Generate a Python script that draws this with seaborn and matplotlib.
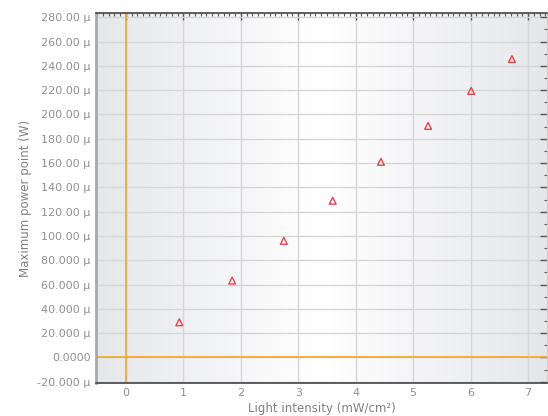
import numpy as np
import pandas as pd
import matplotlib
matplotlib.use("Agg")
import matplotlib.pyplot as plt
from matplotlib.colors import LinearSegmentedColormap
from matplotlib.ticker import MultipleLocator
import seaborn as sns

# data (light intensity in mW/cm², max power point in µW)
light_intensity = [0.93, 1.85, 2.75, 3.60, 4.44, 5.26, 6.01, 6.72]
max_power_uw = [29.0, 63.3, 96.0, 129.0, 161.0, 190.6, 219.4, 245.6]

y_ticks = [-20, 0, 20, 40, 60, 80, 100, 120, 140, 160, 180, 200, 220, 240, 260, 280]
y_tick_labels = ["-20.000 µ", "0.0000", "20.000 µ", "40.000 µ", "60.000 µ", "80.000 µ",
                 "100.00 µ", "120.00 µ", "140.00 µ", "160.00 µ", "180.00 µ", "200.00 µ",
                 "220.00 µ", "240.00 µ", "260.00 µ", "280.00 µ"]
x_ticks = [0, 1, 2, 3, 4, 5, 6, 7]

df = pd.DataFrame({"intensity": light_intensity, "power": max_power_uw})

sns.set_style("white")
plt.rcParams["font.family"] = ["DejaVu Sans"]

fig = plt.figure(figsize=(5.48, 4.16), dpi=100)
ax = fig.add_axes([96 / 548, 33 / 416, 451 / 548, 370 / 416])

# grey-white-grey background gradient
grad = np.concatenate([np.linspace(0, 1, 128), np.linspace(1, 0, 128)])[None, :]
cmap = LinearSegmentedColormap.from_list("bg", ["#e6e7eb", "#ffffff"])
ax.imshow(grad, extent=[0, 1, 0, 1], transform=ax.transAxes, cmap=cmap,
          aspect="auto", zorder=0, interpolation="bicubic")

ax.set_xlim(-0.52, 7.33)
ax.set_ylim(-21, 283.5)

ax.set_xticks(x_ticks)
ax.set_yticks(y_ticks)
ax.set_yticklabels(y_tick_labels)
ax.xaxis.set_minor_locator(MultipleLocator(0.1))
ax.yaxis.set_minor_locator(MultipleLocator(10))

ax.grid(True, which="major", color="#d6d6d6", linewidth=1.0, zorder=1)
ax.set_axisbelow(True)

ax.axvline(0, color="#f5a623", linewidth=1.2, zorder=2)
ax.axhline(0, color="#f5a623", linewidth=1.2, zorder=2)

sns.scatterplot(data=df, x="intensity", y="power", ax=ax, marker="^", s=24,
                facecolor="none", edgecolor="#e8424c", linewidth=1.0, zorder=3)

ax.tick_params(axis="both", which="both", direction="in", top=True, right=True,
               labelsize=8, labelcolor="#909090", color="#555555")
ax.tick_params(which="major", length=5, width=1)
ax.tick_params(which="minor", length=2.5, width=0.8)
ax.tick_params(axis="y", which="both", pad=4)

for side in ["top", "bottom"]:
    ax.spines[side].set_color("#444444")
    ax.spines[side].set_linewidth(1.2)
ax.spines["left"].set_color("#a8a8a8")
ax.spines["left"].set_linewidth(2.0)
ax.spines["right"].set_color("#cccccc")
ax.spines["right"].set_linewidth(0.8)

ax.set_xlabel("Light intensity (mW/cm²)", fontsize=8.5, color="#808080", labelpad=3)
ax.set_ylabel("Maximum power point (W)", fontsize=8.5, color="#808080", labelpad=4)

fig.savefig("out.png", dpi=100)
